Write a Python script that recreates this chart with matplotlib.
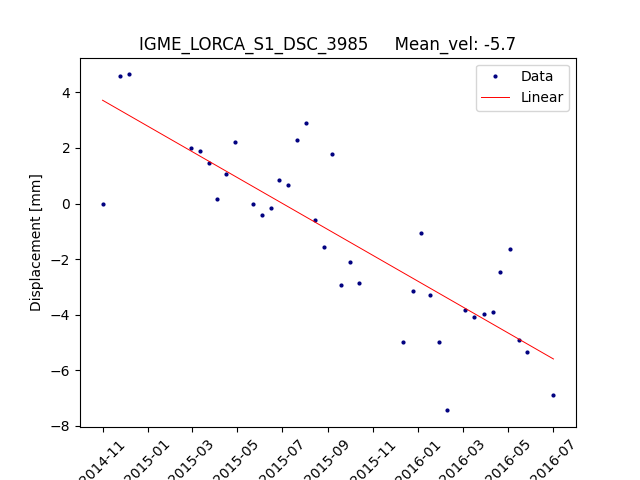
import numpy as np
import pandas as pd
import matplotlib
matplotlib.use("Agg")
import matplotlib.pyplot as plt
import matplotlib.dates as mdates

start = pd.Timestamp("2014-11-01")
day_offsets = [0, 23, 35, 119, 131, 143, 154, 166, 178, 203, 215, 227, 238, 250, 262, 274,
               286, 299, 309, 322, 334, 346, 405, 418, 430, 442, 454, 465, 489, 501, 514,
               526, 536, 549, 561, 573, 608]
disp = [0.0, 4.6, 4.65, 2.0, 1.9, 1.45, 0.15, 1.05, 2.2, 0.0, -0.4, -0.15, 0.85, 0.65,
        2.3, 2.9, -0.6, -1.55, 1.8, -2.95, -2.1, -2.85, -5.0, -3.15, -1.07, -3.3, -4.97,
        -7.45, -3.82, -4.1, -3.97, -3.9, -2.45, -1.62, -4.93, -5.33, -6.88]
dates = [start + pd.Timedelta(days=d) for d in day_offsets]

# linear fit
coef = np.polyfit(day_offsets, disp, 1)
fit = np.polyval(coef, day_offsets)

fig, ax = plt.subplots(figsize=(6.4, 4.8), dpi=100)
ax.plot(dates, disp, 'o', color='navy', markersize=2, label='Data')
ax.plot(dates, fit, '-', color='red', linewidth=0.7, label='Linear')
ax.set_title("IGME_LORCA_S1_DSC_3985     Mean_vel: -5.7")
ax.set_ylabel("Displacement [mm]")
ax.xaxis.set_major_locator(mdates.MonthLocator(bymonth=[1, 3, 5, 7, 9, 11]))
ax.xaxis.set_major_formatter(mdates.DateFormatter('%Y-%m'))
plt.xticks(rotation=45)
ax.legend(loc='upper right')
fig.savefig("out.png")
